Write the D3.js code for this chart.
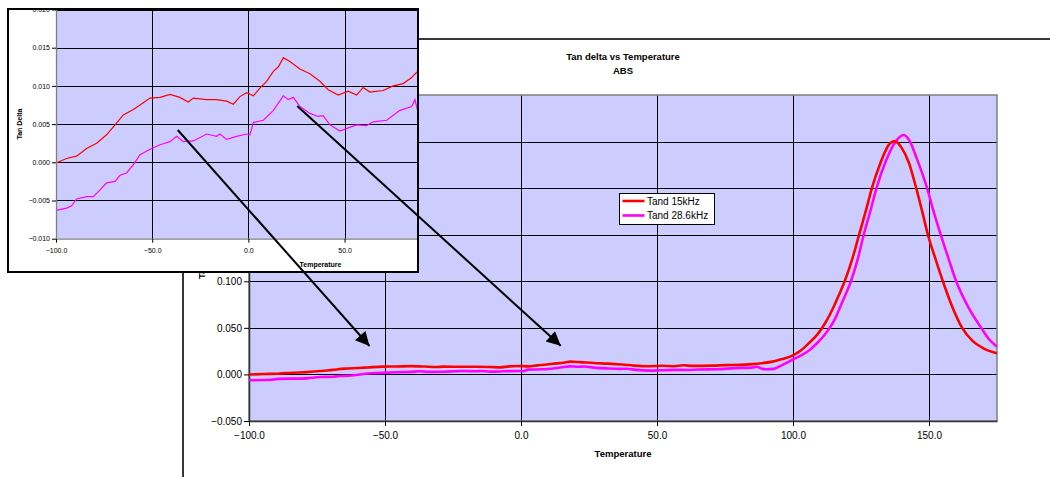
<!DOCTYPE html>
<html>
<head>
<meta charset="utf-8">
<script src="https://cdn.jsdelivr.net/npm/d3@7"></script>
<style>
  body { margin: 0; background: #fff; }
  svg { display: block; font-family: "Liberation Sans", Arial, sans-serif; }
</style>
</head>
<body>
<script>
// data
const temp15 = [-100,-94.5,-89.3,-84.1,-78.9,-73.7,-69.3,-65,-59.8,-56.3,-51.1,-45.9,-40.7,-35.6,-31.2,-28.6,-21.7,-16.5,-11.3,-7.8,-4.4,-0.9,2.6,6,9.5,13,15.6,18.2,21.6,26.8,32,37.2,41.5,46.7,51.9,56.3,59.7,63.2,70.1,75.3,80.5,84.9,88.3,92,96,100,103,106,109,112,115,117,119,122,124.3,127,129,132,135.6,137.4,140,142.5,145.3,147.5,149.6,152.5,155.1,158.5,162.2,166,170,175]
const tand15 = [-0.0001,0.0005,0.0008,0.0018,0.0025,0.0036,0.0049,0.0062,0.0069,0.0075,0.0084,0.0085,0.0089,0.0085,0.0079,0.0084,0.0082,0.0082,0.0080,0.0076,0.0086,0.0091,0.0087,0.0097,0.0106,0.0119,0.0125,0.0137,0.0132,0.0122,0.0116,0.0106,0.0095,0.0088,0.0093,0.0088,0.0098,0.0092,0.0094,0.0100,0.0103,0.0111,0.0120,0.0135,0.0165,0.0205,0.026,0.034,0.043,0.056,0.073,0.086,0.100,0.126,0.150,0.178,0.200,0.226,0.248,0.2505,0.243,0.228,0.200,0.175,0.150,0.123,0.100,0.073,0.050,0.036,0.028,0.0226]

const temp286 = [-100,-94.5,-91.9,-89.3,-84.1,-80.6,-77.1,-73.7,-69.3,-66.7,-63.3,-59.8,-56.3,-51.1,-45.9,-40.7,-37.3,-33.8,-28.6,-21.7,-16.5,-14.8,-11.3,-6.1,-0.9,0.8,2.6,7.8,13,18.2,20.8,23.4,26.8,32,36.3,38.9,42.4,47.6,51.9,56.3,61.5,64.9,71.9,78.8,84.9,86.6,88.3,90,93,96,100,103,106,109,111.5,113.5,115.5,118,121.3,124,126,128.5,130.7,134,137.5,140.7,143,145.5,149.3,151.5,154.3,157,160,164.5,169.2,172,175]
const tand286 = [-0.0063,-0.0060,-0.0057,-0.0048,-0.0045,-0.0045,-0.0036,-0.0027,-0.0025,-0.0017,-0.0014,-0.0003,0.0010,0.0017,0.0023,0.0027,0.0034,0.0027,0.0028,0.0037,0.0034,0.0037,0.0030,0.0034,0.0037,0.0036,0.0052,0.0055,0.0068,0.0087,0.0082,0.0085,0.0073,0.0064,0.0060,0.0061,0.0049,0.0041,0.0045,0.0049,0.0048,0.0053,0.0055,0.0068,0.0073,0.0082,0.0064,0.0055,0.0060,0.0100,0.0160,0.0205,0.026,0.034,0.042,0.050,0.060,0.077,0.100,0.126,0.150,0.176,0.200,0.228,0.249,0.257,0.250,0.232,0.200,0.177,0.150,0.126,0.100,0.072,0.050,0.038,0.0297]

const seriesNames = ["Tand 15kHz", "Tand 28.6kHz"]
const seriesColors = ["#ff0000", "#ff00ff"]
const xTicks = [-100, -50, 0, 50, 100, 150]
const yTicksMain = [-0.05, 0, 0.05, 0.10, 0.15, 0.20, 0.25, 0.30]
const yTicksInset = [-0.010, -0.005, 0, 0.005, 0.010, 0.015, 0.020]

// arrows: from [temp, tand] on inset to [temp, tand] on main chart
const arrowFrom = [[-36.7, 0.00423], [25.4, 0.00737]]
const arrowTo = [[-55.7, 0.0305], [14.6, 0.0308]]

const W = 1050, H = 477
const plotBg = '#ccccff'

const series = [
  temp15.map((t, i) => [t, tand15[i]]),
  temp286.map((t, i) => [t, tand286[i]])
]

const svg = d3.select('body').append('svg').attr('width', W).attr('height', H)

// ---------- main chart ----------
const main = {left: 249, right: 997, top: 95, bottom: 421}
const x = d3.scaleLinear().domain([-100, 175]).range([main.left, main.right])
const y = d3.scaleLinear().domain([-0.05, 0.30]).range([main.bottom, main.top])

svg.append('rect')
  .attr('x', 183).attr('y', 39).attr('width', 1000).attr('height', 500)
  .attr('fill', '#fff').attr('stroke', '#222').attr('stroke-width', 1.8)

svg.append('text').attr('x', 623).attr('y', 60)
  .attr('text-anchor', 'middle').attr('font-size', 9.5).attr('font-weight', 'bold')
  .text('Tan delta vs Temperature')
svg.append('text').attr('x', 623).attr('y', 74)
  .attr('text-anchor', 'middle').attr('font-size', 9.5).attr('font-weight', 'bold')
  .text('ABS')

svg.append('rect')
  .attr('x', main.left).attr('y', main.top)
  .attr('width', main.right - main.left).attr('height', main.bottom - main.top)
  .attr('fill', plotBg)

// grid
svg.append('g').selectAll('line').data(yTicksMain.slice(1, -1)).join('line')
  .attr('x1', main.left).attr('x2', main.right)
  .attr('y1', d => Math.round(y(d)) + 0.5).attr('y2', d => Math.round(y(d)) + 0.5)
  .attr('stroke', '#000')
svg.append('g').selectAll('line').data(xTicks.slice(1)).join('line')
  .attr('y1', main.top).attr('y2', main.bottom)
  .attr('x1', d => Math.round(x(d)) + 0.5).attr('x2', d => Math.round(x(d)) + 0.5)
  .attr('stroke', '#000')

// plot border
svg.append('rect')
  .attr('x', main.left).attr('y', main.top)
  .attr('width', main.right - main.left).attr('height', main.bottom - main.top)
  .attr('fill', 'none').attr('stroke', '#808080').attr('stroke-width', 1.5)

const xAxis = d3.axisBottom(x).tickValues(xTicks).tickFormat(d3.format('.1f')).tickSize(5).tickSizeOuter(0)
const yAxis = d3.axisLeft(y).tickValues(yTicksMain.slice(0, -1)).tickFormat(d3.format('.3f')).tickSize(5).tickSizeOuter(0)

const gx = svg.append('g').attr('transform', `translate(0,${main.bottom})`).call(xAxis)
const gy = svg.append('g').attr('transform', `translate(${main.left},0)`).call(yAxis)
for (const g of [gx, gy]) {
  g.select('.domain').attr('stroke', '#333').attr('stroke-width', 1.5)
  g.selectAll('.tick line').attr('stroke', '#000')
  g.selectAll('.tick text').attr('font-size', 10).attr('fill', '#000')
    .attr('font-family', '"Liberation Sans", Arial, sans-serif')
}
gx.selectAll('.tick text').attr('dy', '0.95em')
gy.selectAll('.tick text').attr('x', -7)

svg.append('text').attr('x', 623).attr('y', 457)
  .attr('text-anchor', 'middle').attr('font-size', 9.5).attr('font-weight', 'bold')
  .text('Temperature')
svg.append('text')
  .attr('transform', `translate(205,${(main.top + main.bottom) / 2}) rotate(-90)`)
  .attr('text-anchor', 'middle').attr('font-size', 9.5).attr('font-weight', 'bold')
  .text('Tan Delta')

const lineMain = d3.line().x(d => x(d[0])).y(d => y(d[1])).curve(d3.curveMonotoneX)
svg.append('defs').append('clipPath').attr('id', 'clipMain')
  .append('rect').attr('x', main.left).attr('y', main.top)
  .attr('width', main.right - main.left).attr('height', main.bottom - main.top)
const gLines = svg.append('g').attr('clip-path', 'url(#clipMain)')
;[1, 0].forEach(i => {
  gLines.append('path').datum(series[i]).attr('d', lineMain)
    .attr('fill', 'none').attr('stroke', seriesColors[i]).attr('stroke-width', 2.6)
    .attr('stroke-linejoin', 'round')
})

// legend
const leg = svg.append('g').attr('transform', 'translate(619.5,193.5)')
leg.append('rect').attr('width', 95).attr('height', 31).attr('fill', '#fff').attr('stroke', '#000')
seriesNames.forEach((name, i) => {
  const yy = 7.5 + i * 14.5
  leg.append('line').attr('x1', 3).attr('x2', 25).attr('y1', yy).attr('y2', yy)
    .attr('stroke', seriesColors[i]).attr('stroke-width', 2.6)
  leg.append('text').attr('x', 27.5).attr('y', yy + 3.6).attr('font-size', 10).text(name)
})

// ---------- inset (zoomed copy) ----------
const ins = {left: 56, top: 9.5, bottom: 238.7}
const xi = d3.scaleLinear().domain([-100, 175]).range([ins.left, 585])
const yi = d3.scaleLinear().domain([-0.01, 0.02]).range([ins.bottom, ins.top])

const inset = svg.append('g')
svg.select('defs').append('clipPath').attr('id', 'clipInsetFrame')
  .append('rect').attr('x', 8).attr('y', 10).attr('width', 410).attr('height', 262)
inset.attr('clip-path', 'url(#clipInsetFrame)')

inset.append('rect').attr('x', 8).attr('y', 9).attr('width', 410).attr('height', 263).attr('fill', '#fff')
inset.append('rect').attr('x', ins.left).attr('y', ins.top)
  .attr('width', 600).attr('height', ins.bottom - ins.top).attr('fill', plotBg)

inset.append('g').selectAll('line').data(yTicksInset.slice(1)).join('line')
  .attr('x1', ins.left).attr('x2', 600)
  .attr('y1', d => Math.round(yi(d)) + 0.5).attr('y2', d => Math.round(yi(d)) + 0.5)
  .attr('stroke', '#000')
inset.append('g').selectAll('line').data(xTicks.slice(1)).join('line')
  .attr('y1', ins.top).attr('y2', ins.bottom)
  .attr('x1', d => Math.round(xi(d)) + 0.5).attr('x2', d => Math.round(xi(d)) + 0.5)
  .attr('stroke', '#000')

const lineInset = d3.line().x(d => xi(d[0])).y(d => yi(d[1]))
;[1, 0].forEach(i => {
  inset.append('path').datum(series[i].filter(d => d[0] <= 100)).attr('d', lineInset)
    .attr('fill', 'none').attr('stroke', seriesColors[i]).attr('stroke-width', 1.2)
})

const xiAxis = d3.axisBottom(xi).tickValues(xTicks).tickFormat(d3.format('.1f')).tickSize(4).tickSizeOuter(0)
const yiAxis = d3.axisLeft(yi).tickValues(yTicksInset).tickFormat(d3.format('.3f')).tickSize(4).tickSizeOuter(0)
const gxi = inset.append('g').attr('transform', `translate(0,${ins.bottom})`).call(xiAxis)
const gyi = inset.append('g').attr('transform', `translate(${ins.left},0)`).call(yiAxis)
for (const g of [gxi, gyi]) {
  g.select('.domain').attr('stroke', '#808080').attr('stroke-width', 1.3)
  g.selectAll('.tick line').attr('stroke', '#000')
  g.selectAll('.tick text').attr('font-size', 7).attr('fill', '#000')
    .attr('font-family', '"Liberation Sans", Arial, sans-serif')
}
gxi.selectAll('.tick text').attr('dy', '1em')
gyi.selectAll('.tick text').attr('x', -6)

inset.append('text').attr('x', xi(37.5)).attr('y', 266.5)
  .attr('text-anchor', 'middle').attr('font-size', 7).attr('font-weight', 'bold')
  .text('Temperature')
inset.append('text')
  .attr('transform', `translate(22,${(ins.top + ins.bottom) / 2}) rotate(-90)`)
  .attr('text-anchor', 'middle').attr('font-size', 7).attr('font-weight', 'bold')
  .text('Tan Delta')

svg.append('rect').attr('x', 8).attr('y', 9).attr('width', 410).attr('height', 263)
  .attr('fill', 'none').attr('stroke', '#000').attr('stroke-width', 2)

// ---------- arrows ----------
svg.select('defs').append('marker').attr('id', 'arrowHead')
  .attr('viewBox', '0 0 10 10').attr('refX', 10).attr('refY', 5)
  .attr('markerUnits', 'userSpaceOnUse').attr('markerWidth', 18).attr('markerHeight', 14)
  .attr('orient', 'auto')
  .append('path').attr('d', 'M0,0 L10,5 L0,10 Z').attr('fill', '#000')

arrowFrom.forEach((a, i) => {
  const b = arrowTo[i]
  svg.append('line')
    .attr('x1', xi(a[0])).attr('y1', yi(a[1]))
    .attr('x2', x(b[0])).attr('y2', y(b[1]))
    .attr('stroke', '#000').attr('stroke-width', 2)
    .attr('marker-end', 'url(#arrowHead)')
})
</script>
</body>
</html>
